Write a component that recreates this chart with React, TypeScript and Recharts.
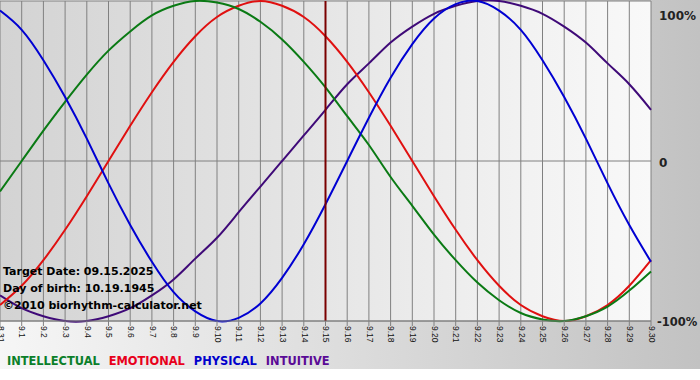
import { CartesianGrid, Line, LineChart, ReferenceLine, XAxis, YAxis } from "recharts";

// one entry per day, 8.31 .. 9.30
const DAYS = [
  "8.31", "9.1", "9.2", "9.3", "9.4", "9.5", "9.6", "9.7", "9.8", "9.9", "9.10",
  "9.11", "9.12", "9.13", "9.14", "9.15", "9.16", "9.17", "9.18", "9.19", "9.20",
  "9.21", "9.22", "9.23", "9.24", "9.25", "9.26", "9.27", "9.28", "9.29", "9.30",
];

// values in percent
const PHYSICAL = [
  94, 82, 63, 40, 14, -14, -40, -63, -82, -94, -100, -98, -89, -73, -52, -27,
  0, 27, 52, 73, 89, 98, 100, 94, 82, 63, 40, 14, -14, -40, -63,
];
const EMOTIONAL = [
  -90, -78, -62, -43, -22, 0, 22, 43, 62, 78, 90, 97, 100, 97, 90, 78,
  62, 43, 22, 0, -22, -43, -62, -78, -90, -97, -100, -97, -90, -78, -62,
];
const INTELLECTUAL = [
  -19, 0, 19, 37, 54, 69, 81, 91, 97, 100, 99, 95, 87, 76, 62, 46,
  28, 10, -10, -28, -46, -62, -76, -87, -95, -99, -100, -97, -91, -81, -69,
];
const INTUITIVE = [
  -84, -92, -97, -100, -100, -97, -92, -84, -74, -61, -48, -32, -16, 0, 16, 32,
  48, 61, 74, 84, 92, 97, 100, 100, 97, 92, 84, 74, 61, 48, 32,
];

const Y_TICKS = [-100, 0, 100];
const TARGET_DAY = "9.15";
const INFO_LINES = [
  "Target Date: 09.15.2025",
  "Day of birth: 10.19.1945",
  "\u00a92010 biorhythm-calculator.net",
];

const SERIES = [
  { key: "intuitive", label: "INTUITIVE", values: INTUITIVE, stroke: "#3f0a78", text: "#5a0a96" },
  { key: "emotional", label: "EMOTIONAL", values: EMOTIONAL, stroke: "#e01010", text: "#e8001c" },
  { key: "intellectual", label: "INTELLECTUAL", values: INTELLECTUAL, stroke: "#0a7a14", text: "#0b7f2a" },
  { key: "physical", label: "PHYSICAL", values: PHYSICAL, stroke: "#0000d2", text: "#0000cc" },
];
const LEGEND_ORDER = ["intellectual", "emotional", "physical", "intuitive"];

const FONT = "'DejaVu Sans', Verdana, sans-serif";

function DayTick(props: any) {
  const { x, y, payload } = props;
  return (
    <text
      x={0}
      y={0}
      transform={`translate(${x},${y - 2}) rotate(90)`}
      dominantBaseline="middle"
      textAnchor="start"
      fontSize={8.5}
      fontFamily="'Liberation Sans', Arial, sans-serif"
      fill="#111"
    >
      {payload.value}
    </text>
  );
}

function PercentTick(props: any) {
  const { y, payload } = props;
  const v = payload.value;
  const label = v === 0 ? "0" : `${v}%`;
  const dy = v === 100 ? 7 : v === 0 ? 2 : 1;
  return (
    <text
      x={v === -100 ? 657 : 659}
      y={y + dy}
      dominantBaseline="middle"
      textAnchor="start"
      fontSize={v === -100 ? 11.5 : 12}
      fontWeight="bold"
      fontFamily={FONT}
      fill="#222"
    >
      {label}
    </text>
  );
}

export default function App() {
  const data = DAYS.map((d, i) => {
    const row: Record<string, string | number> = { day: d };
    for (const s of SERIES) row[s.key] = s.values[i];
    return row;
  });

  return (
    <div
      style={{
        position: "absolute",
        left: 0,
        top: 0,
        width: 700,
        height: 380,
        background: "#fff",
        fontFamily: FONT,
      }}
    >
      <div
        style={{
          position: "absolute",
          left: 0,
          top: 0,
          width: 700,
          height: 369,
          background: "linear-gradient(to right, #f6f6f6, #c2c2c2)",
        }}
      />
      <div style={{ position: "absolute", left: 0, top: 0 }}>
        <LineChart
          width={700}
          height={365}
          data={data}
          margin={{ top: 1, right: 0, left: 0, bottom: 0 }}
        >
          <defs>
            <linearGradient id="plotBg" x1="0" y1="0" x2="1" y2="0">
              <stop offset="0%" stopColor="#d3d3d3" />
              <stop offset="100%" stopColor="#f9f9f9" />
            </linearGradient>
          </defs>
          <CartesianGrid
            fill="url(#plotBg)"
            stroke="#808080"
            strokeWidth={1}
            vertical
            horizontal
          />
          <XAxis
            dataKey="day"
            interval={0}
            height={44}
            tickSize={5}
            tickLine={{ stroke: "#808080" }}
            axisLine={{ stroke: "#808080" }}
            tick={<DayTick />}
          />
          <YAxis
            orientation="right"
            width={49}
            domain={[-100, 100]}
            ticks={Y_TICKS}
            axisLine={false}
            tickLine={false}
            tick={<PercentTick />}
          />
          {SERIES.map((s) => (
            <Line
              key={s.key}
              type="natural"
              dataKey={s.key}
              stroke={s.stroke}
              strokeWidth={2}
              dot={false}
              activeDot={false}
              isAnimationActive={false}
            />
          ))}
          <ReferenceLine x={TARGET_DAY} stroke="#7a0000" strokeWidth={2} />
        </LineChart>
      </div>
      {INFO_LINES.map((t, i) => (
        <div
          key={t}
          style={{
            position: "absolute",
            left: 3,
            top: 265 + i * 17,
            fontSize: 11,
            fontWeight: "bold",
            color: "#000",
            whiteSpace: "nowrap",
            lineHeight: "14px",
          }}
        >
          {t}
        </div>
      ))}
      <div
        style={{
          position: "absolute",
          left: 7,
          top: 354,
          fontSize: 11.4,
          fontWeight: "bold",
          whiteSpace: "nowrap",
          lineHeight: "14px",
        }}
      >
        {LEGEND_ORDER.map((k) => {
          const s = SERIES.find((x) => x.key === k)!;
          return (
            <span key={k} style={{ color: s.text, marginRight: 9 }}>
              {s.label}
            </span>
          );
        })}
      </div>
    </div>
  );
}
